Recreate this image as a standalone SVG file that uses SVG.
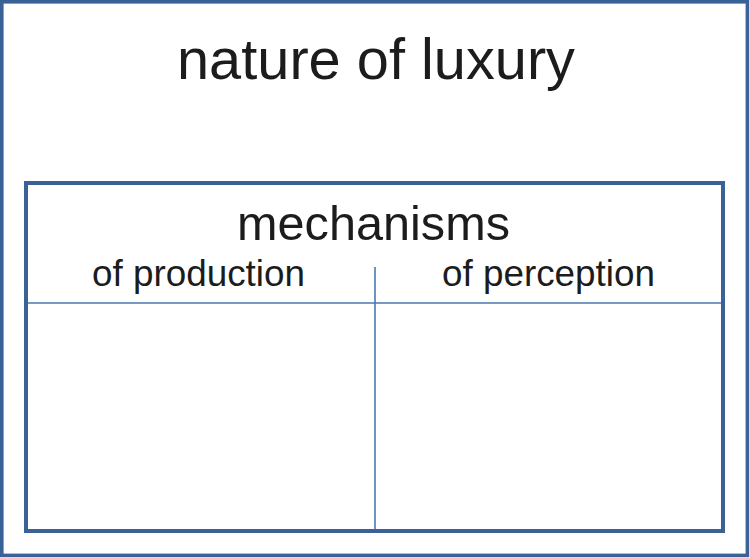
<svg xmlns="http://www.w3.org/2000/svg" width="750" height="558" viewBox="0 0 750 558">
<style>
.box{fill:none;stroke:#3b6296;}
.div{stroke:#4a78b2;stroke-width:1.6;fill:none;}
text{font-family:"Liberation Sans",Arial,sans-serif;fill:#1c1c1c;text-anchor:middle;}
</style>
<rect width="750" height="558" fill="#ffffff"/>
<g id="outer">
<rect class="box" x="1.8" y="1.8" width="745.6" height="553.6" stroke-width="3.6"/>
<text x="376" y="79" font-size="58" textLength="398" lengthAdjust="spacingAndGlyphs">nature of luxury</text>
</g>
<g id="mechanisms">
<rect class="box" x="26" y="183" width="697" height="348" stroke-width="4"/>
<text x="373.5" y="240" font-size="49" textLength="273" lengthAdjust="spacingAndGlyphs">mechanisms</text>
</g>
<g id="connectors">
<line class="div" x1="28" y1="303" x2="721" y2="303"/>
<line class="div" x1="375" y1="267" x2="375" y2="529"/>
</g>
<g id="production">
<text x="198.5" y="286" font-size="36" textLength="213" lengthAdjust="spacingAndGlyphs">of production</text>
</g>
<g id="perception">
<text x="548.5" y="286" font-size="36" textLength="213" lengthAdjust="spacingAndGlyphs">of perception</text>
</g>
</svg>
